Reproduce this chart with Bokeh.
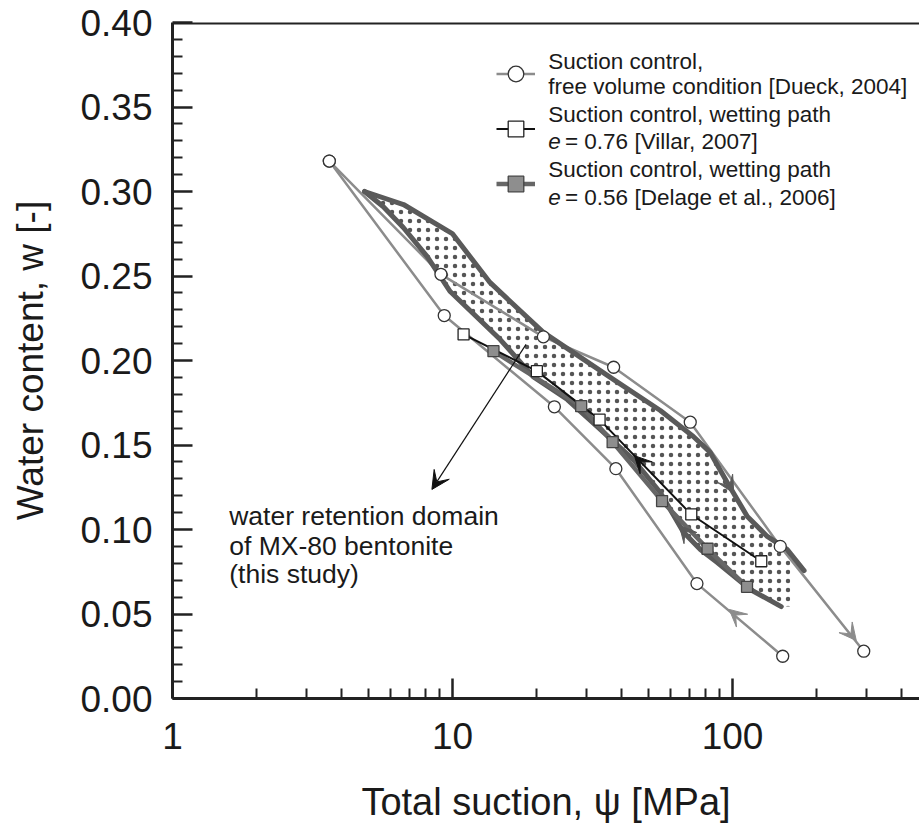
from bokeh.plotting import figure
from bokeh.models import (FixedTicker, NumeralTickFormatter, PrintfTickFormatter, Span, Label,
                          Arrow, VeeHead, Legend, LegendItem)
from bokeh.embed import file_html
from bokeh.resources import INLINE

# ---------------- data (total suction psi [MPa], water content w [-]) ----------------
# Dueck 2004, free volume condition: drying branch and wetting branch
dueck_dry_psi = [3.63, 9.09, 21.1, 37.6, 70.6, 148.0, 294.0]
dueck_dry_w = [0.318, 0.251, 0.214, 0.196, 0.1635, 0.090, 0.028]
dueck_wet_psi = [151.0, 74.6, 38.3, 23.1, 9.34, 3.63]
dueck_wet_w = [0.025, 0.068, 0.136, 0.1726, 0.2266, 0.318]

# Villar 2007, wetting path e = 0.76
villar_psi = [126.6, 71.2, 33.5, 20.0, 10.95]
villar_w = [0.0812, 0.1089, 0.165, 0.1937, 0.2154]

# Delage et al. 2006, wetting path e = 0.56
delage_psi = [112.6, 81.4, 56.0, 37.3, 28.8, 14.0]
delage_w = [0.0661, 0.0886, 0.1168, 0.1517, 0.173, 0.2055]

# Water retention domain of MX-80 bentonite (this study)
domain_upper_psi = [4.85, 6.68, 9.98, 13.6, 21.1, 37.5, 55.2, 72.4, 83.2, 95.7, 112.9, 133.0, 156.5, 180.0]
domain_upper_w = [0.300, 0.2923, 0.2751, 0.2462, 0.2166, 0.1888, 0.1704, 0.155, 0.1456, 0.1278, 0.1077, 0.0959, 0.0882, 0.0757]
domain_lower_psi = [4.85, 5.65, 6.67, 8.12, 9.81, 14.8, 19.4, 25.7, 33.7, 44.2, 55.2, 66.7, 76.7, 88.2, 115.7, 149.2]
domain_lower_w = [0.300, 0.2911, 0.2787, 0.2615, 0.2408, 0.2124, 0.1905, 0.1769, 0.1592, 0.1414, 0.1219, 0.0985, 0.0882, 0.0805, 0.0645, 0.0544]
domain_end_psi = [160.7, 160.7]
domain_end_w = [0.086, 0.0544]

# direction arrows: (start psi, start w, tip psi, tip w)
arrow_dueck_dry = (148.0, 0.090, 276.5, 0.0343)
arrow_dueck_wet = (151.0, 0.025, 97.3, 0.0527)
arrow_villar = (71.2, 0.1089, 44.6, 0.1437)
arrow_domain_dry = (83.2, 0.1456, 101.0, 0.1215)
arrow_domain_wet = (76.7, 0.0882, 64.5, 0.1025)
# pointer arrow to the domain annotation
arrow_note = (18.3, 0.2095, 8.44, 0.1237)

# axis ticks
x_ticks = [1, 10, 100]
x_minor_ticks = [2, 3, 4, 5, 6, 7, 8, 9, 20, 30, 40, 50, 60, 70, 80, 90, 200, 300, 400]
y_ticks = [0.00, 0.05, 0.10, 0.15, 0.20, 0.25, 0.30, 0.35, 0.40]
y_minor_ticks = [0.01, 0.02, 0.03, 0.04, 0.06, 0.07, 0.08, 0.09, 0.11, 0.12, 0.13, 0.14,
                 0.16, 0.17, 0.18, 0.19, 0.21, 0.22, 0.23, 0.24, 0.26, 0.27, 0.28, 0.29,
                 0.31, 0.32, 0.33, 0.34, 0.36, 0.37, 0.38, 0.39]

# text
x_title = "Total suction, \u03c8 [MPa]"
y_title = "Water content, w [-]"
note_lines = ["water retention domain", "of MX-80 bentonite", "(this study)"]
note_pos = (1.594, [0.1077, 0.0905, 0.0734])
legend_lines = ["Suction control,", "free volume condition [Dueck, 2004]",
                "Suction control, wetting path", "= 0.76 [Villar, 2007]",
                "Suction control, wetting path", "= 0.56 [Delage et al., 2006]"]
legend_text_x = [21.97, 25.2]
legend_text_y = [0.3769, 0.3621, 0.3456, 0.3296, 0.3130, 0.2964]

FONT = "Liberation Sans"
AX = "#222222"
DUECK_C = "#8c8c8c"
DOMAIN_C = "#5a5a5a"
DELAGE_C = "#666666"

p = figure(width=919, height=828, x_axis_type="log", x_range=(1, 465), y_range=(0, 0.40),
           output_backend="svg", toolbar_location=None,
           min_border_left=172, min_border_right=0, min_border_top=22, min_border_bottom=130)
p.outline_line_color = None
p.grid.grid_line_color = None
p.background_fill_color = "white"

# stippled domain
patch_x = domain_upper_psi[:-1] + domain_end_psi + domain_lower_psi[::-1]
patch_y = domain_upper_w[:-1] + domain_end_w + domain_lower_w[::-1]
p.patch(patch_x, patch_y, fill_alpha=0, line_alpha=0, hatch_pattern="dot",
        hatch_color="#555555", hatch_scale=9, hatch_weight=2, hatch_alpha=1.0)

# Dueck lines
r_dd = p.line(dueck_dry_psi, dueck_dry_w, line_color=DUECK_C, line_width=2.5)
p.line(dueck_wet_psi, dueck_wet_w, line_color=DUECK_C, line_width=2.5)

# domain boundaries
p.line(domain_upper_psi, domain_upper_w, line_color=DOMAIN_C, line_width=5, line_cap="round", line_join="round")
p.line(domain_lower_psi, domain_lower_w, line_color=DOMAIN_C, line_width=5, line_cap="round", line_join="round")

# Delage
r_del = p.line(delage_psi, delage_w, line_color=DELAGE_C, line_width=4.5)
# Villar
r_vil = p.line(villar_psi, villar_w, line_color="#111111", line_width=2)

# markers
r_ddp = p.scatter(dueck_dry_psi, dueck_dry_w, marker="circle", size=12, fill_color="white",
                  line_color="#333333", line_width=1.3)
p.scatter(dueck_wet_psi, dueck_wet_w, marker="circle", size=12, fill_color="white",
          line_color="#333333", line_width=1.3)
r_vilp = p.scatter(villar_psi, villar_w, marker="square", size=11, fill_color="white",
                   line_color="#222222", line_width=1.3)
r_delp = p.scatter(delage_psi, delage_w, marker="square", size=11, fill_color="#8e8e8e",
                   line_color="#444444", line_width=1.3)

# direction arrows
for (xs, ys, xe, ye), col in [(arrow_dueck_dry, DUECK_C), (arrow_dueck_wet, DUECK_C),
                              (arrow_villar, "#111111"), (arrow_domain_dry, DOMAIN_C),
                              (arrow_domain_wet, DOMAIN_C)]:
    p.add_layout(Arrow(x_start=xs, y_start=ys, x_end=xe, y_end=ye, line_alpha=0,
                       end=VeeHead(size=17, fill_color=col, line_color=col, line_width=1)))

p.add_layout(Arrow(x_start=arrow_note[0], y_start=arrow_note[1], x_end=arrow_note[2], y_end=arrow_note[3],
                   line_color="#111111", line_width=1.2,
                   end=VeeHead(size=18, fill_color="#111111", line_color="#111111", line_width=1)))

# top frame border
p.add_layout(Span(location=0.40, dimension="width", line_color=AX, line_width=4))

# annotation text
for txt, yy in zip(note_lines, note_pos[1]):
    p.add_layout(Label(x=note_pos[0], y=yy, text=txt, text_font=FONT, text_font_size="26.5px",
                       text_color="#1a1a1a", text_baseline="middle", text_align="left"))

# legend texts
for i, txt in enumerate(legend_lines):
    xx = legend_text_x[1] if i in (3, 5) else legend_text_x[0]
    p.add_layout(Label(x=xx, y=legend_text_y[i], text=txt, text_font=FONT, text_font_size="22.5px",
                       text_color="#1a1a1a", text_baseline="middle", text_align="left"))
for i in (3, 5):
    p.add_layout(Label(x=legend_text_x[0], y=legend_text_y[i], text="e", text_font=FONT,
                       text_font_size="22.5px", text_font_style="italic", text_color="#1a1a1a",
                       text_baseline="middle", text_align="left"))

legend = Legend(items=[LegendItem(label=" ", renderers=[r_dd, r_ddp]),
                       LegendItem(label=" ", renderers=[r_vil, r_vilp]),
                       LegendItem(label=" ", renderers=[r_del, r_delp])],
                location=(324, 487), orientation="vertical", glyph_width=39, glyph_height=55,
                label_height=55, spacing=0, padding=0, margin=0, label_standoff=0,
                label_text_font_size="1px", border_line_color=None, background_fill_alpha=0)
p.add_layout(legend)

# axes
p.xaxis.ticker = FixedTicker(ticks=x_ticks, minor_ticks=x_minor_ticks)
p.xaxis.formatter = PrintfTickFormatter(format="%d")
p.yaxis.ticker = FixedTicker(ticks=y_ticks, minor_ticks=y_minor_ticks)
p.yaxis.formatter = NumeralTickFormatter(format="0.00")
p.xaxis.axis_label = x_title
p.yaxis.axis_label = y_title
for ax in (p.xaxis, p.yaxis):
    ax.axis_line_width = 3
    ax.axis_line_color = AX
    ax.major_tick_in = 20
    ax.major_tick_out = 0
    ax.minor_tick_in = 10
    ax.minor_tick_out = 0
    ax.major_tick_line_width = 2.5
    ax.minor_tick_line_width = 2
    ax.major_tick_line_color = AX
    ax.minor_tick_line_color = AX
    ax.major_label_text_font = FONT
    ax.major_label_text_font_size = "37px"
    ax.major_label_text_color = "#1a1a1a"
    ax.axis_label_text_font = FONT
    ax.axis_label_text_font_style = "normal"
    ax.axis_label_text_color = "#1a1a1a"
p.xaxis.axis_label_text_font_size = "38px"
p.yaxis.axis_label_text_font_size = "37px"
p.xaxis.major_label_standoff = 24
p.xaxis.axis_label_standoff = 29
p.yaxis.major_label_standoff = 20
p.yaxis.axis_label_standoff = 26

open("out.html", "w").write(file_html(p, INLINE))
